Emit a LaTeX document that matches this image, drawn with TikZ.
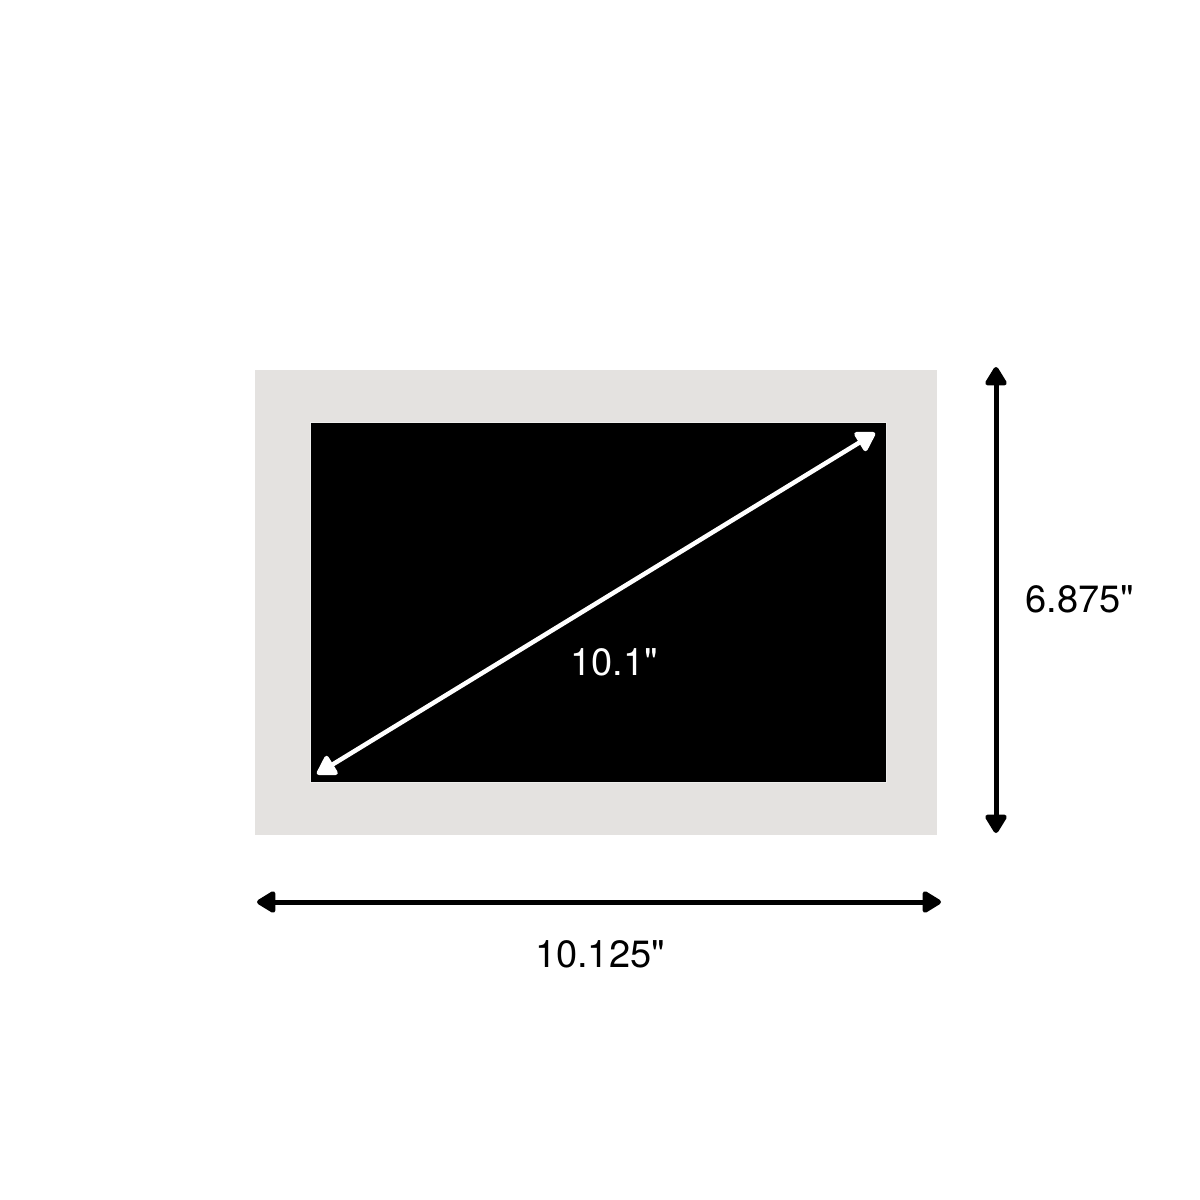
\documentclass[tikz,border=0pt]{standalone}
\usepackage{fontspec}
\newfontfamily\labelfont{TeX Gyre Heros}
\usetikzlibrary{arrows.meta}
\definecolor{matgray}{HTML}{E4E2E0}
\definecolor{matedge}{HTML}{EEEEED}
\tikzset{
  dimarrow/.style={line width=5pt, {Triangle[length=21pt,width=24pt,round]}-{Triangle[length=21pt,width=24pt,round]}},
  diagarrow/.style={draw=white, line width=4.5pt, {Triangle[length=21pt,width=24pt,round]}-{Triangle[length=21pt,width=24pt,round]}},
  dimlabel/.style={font=\labelfont\fontsize{38}{40}\selectfont, inner sep=0pt, anchor=base}
}
\begin{document}
\begin{tikzpicture}[x=1pt,y=-1pt]
\useasboundingbox[fill=white] (0,0) rectangle (1200,1200);
% frame
\fill[matgray] (255,370) rectangle (937,835);
\filldraw[fill=black, draw=matedge, line width=1pt] (310,422) rectangle (886,782);
% diagonal
\coordinate (dA) at (317,774);
\coordinate (dB) at (875,433);
\draw[diagarrow] (dA) -- (dB);
\node[dimlabel, text=white] (dl) at (614,675) {10.1"};
% vertical
\coordinate (vA) at (996,367);
\coordinate (vB) at (996,833);
\draw[dimarrow] (vA) -- (vB);
\node[dimlabel] (vl) at (1080,612) {6.875"};
% horizontal
\coordinate (hA) at (257,902);
\coordinate (hB) at (941,902);
\draw[dimarrow] (hA) -- (hB);
\node[dimlabel] (hl) at (600,967) {10.125"};
\end{tikzpicture}
\end{document}
